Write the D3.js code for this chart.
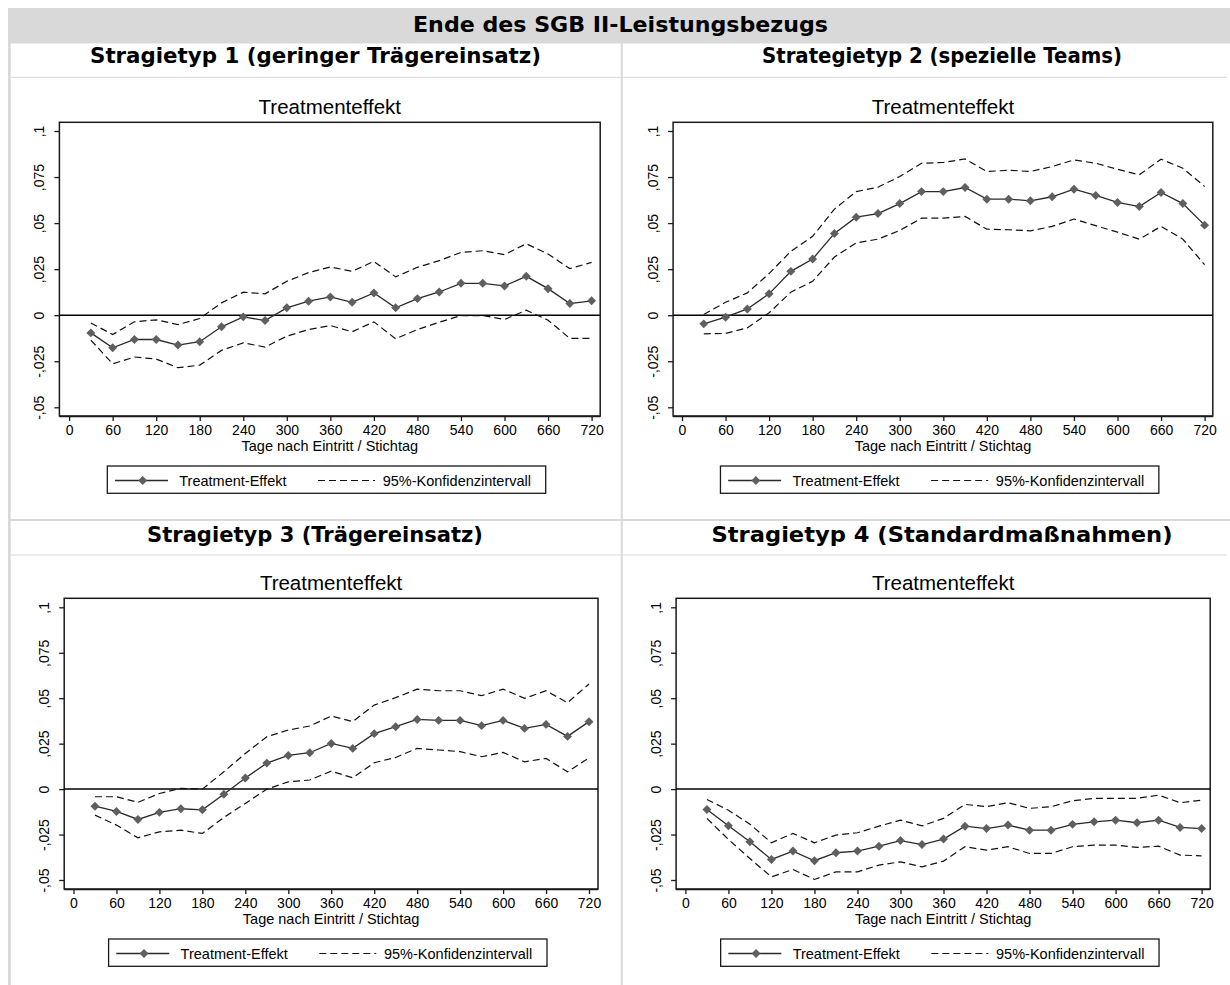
<!DOCTYPE html>
<html>
<head>
<meta charset="utf-8">
<script src="https://cdn.jsdelivr.net/npm/d3@7"></script>
<style>
  body { margin: 0; background: #fff; }
  svg { display: block; }
  .head { font-family: "DejaVu Sans", Verdana, sans-serif; font-weight: bold; fill: #000; }
  .st { font-family: "Liberation Sans", Arial, sans-serif; fill: #000; }
</style>
</head>
<body>
<svg id="chart" width="1230" height="985"></svg>
<script>

// category axis and ticks
var days = [30, 60, 90, 120, 150, 180, 210, 240, 270, 300, 330, 360,
            390, 420, 450, 480, 510, 540, 570, 600, 630, 660, 690, 720];
var xTicks = [0, 60, 120, 180, 240, 300, 360, 420, 480, 540, 600, 660, 720];
var yTicks = [0.1, 0.075, 0.05, 0.025, 0, -0.025, -0.05];
var yTickLabels = [",1", ",075", ",05", ",025", "0", "-,025", "-,05"];

var mainTitle = "Ende des SGB II-Leistungsbezugs";
var panelTitles = ["Stragietyp 1 (geringer Trägereinsatz)", "Strategietyp 2 (spezielle Teams)",
                   "Stragietyp 3 (Trägereinsatz)", "Stragietyp 4 (Standardmaßnahmen)"];
var plotTitle = "Treatmenteffekt";
var xTitle = "Tage nach Eintritt / Stichtag";
var legendLabels = ["Treatment-Effekt", "95%-Konfidenzintervall"];

// Stragietyp 1
var effect1 = [-0.0096, -0.0177, -0.0132, -0.0132, -0.0162, -0.0144, -0.0063, -0.0009, -0.0029, 0.0040, 0.0076, 0.0099,
               0.0070, 0.0121, 0.0040, 0.0090, 0.0126, 0.0173, 0.0173, 0.0159, 0.0211, 0.0144, 0.0063, 0.0078];
var upper1  = [-0.0042, -0.0105, -0.0036, -0.0025, -0.0051, -0.0018, 0.0067, 0.0125, 0.0116, 0.0184, 0.0231, 0.0262,
               0.0238, 0.0292, 0.0208, 0.0260, 0.0296, 0.0341, 0.0350, 0.0329, 0.0388, 0.0332, 0.0253, 0.0287];
var lower1  = [-0.0135, -0.0264, -0.0227, -0.0238, -0.0285, -0.0271, -0.0191, -0.0150, -0.0173, -0.0114, -0.0078, -0.0056,
               -0.0090, -0.0036, -0.0128, -0.0078, -0.0038, -0.0002, -0.0002, -0.0023, 0.0027, -0.0027, -0.0126, -0.0126];

// Strategietyp 2
var effect2 = [-0.0047, -0.0011, 0.0034, 0.0116, 0.0238, 0.0305, 0.0444, 0.0532, 0.0552, 0.0606, 0.0671, 0.0671,
               0.0693, 0.0630, 0.0630, 0.0621, 0.0643, 0.0684, 0.0650, 0.0612, 0.0590, 0.0666, 0.0606, 0.0489];
var upper2  = [0.0004, 0.0070, 0.0121, 0.0226, 0.0347, 0.0428, 0.0576, 0.0671, 0.0695, 0.0753, 0.0825, 0.0829,
               0.0848, 0.0780, 0.0787, 0.0780, 0.0807, 0.0843, 0.0825, 0.0792, 0.0762, 0.0847, 0.0798, 0.0699];
var lower2  = [-0.0101, -0.0099, -0.0069, 0.0013, 0.0125, 0.0184, 0.0316, 0.0392, 0.0413, 0.0460, 0.0527, 0.0527,
               0.0536, 0.0467, 0.0464, 0.0458, 0.0482, 0.0522, 0.0486, 0.0451, 0.0413, 0.0482, 0.0413, 0.0274];

// Stragietyp 3
var effect3 = [-0.0094, -0.0123, -0.0167, -0.0128, -0.0108, -0.0114, -0.0028, 0.0061, 0.0143, 0.0185, 0.0200, 0.0251,
               0.0224, 0.0305, 0.0343, 0.0383, 0.0378, 0.0378, 0.0349, 0.0378, 0.0334, 0.0356, 0.0290, 0.0371];
var upper3  = [-0.0042, -0.0042, -0.0073, -0.0024, 0.0004, 0.0000, 0.0095, 0.0196, 0.0288, 0.0325, 0.0347, 0.0402,
               0.0371, 0.0462, 0.0503, 0.0550, 0.0541, 0.0541, 0.0514, 0.0550, 0.0499, 0.0541, 0.0475, 0.0578];
var lower3  = [-0.0143, -0.0198, -0.0268, -0.0235, -0.0226, -0.0244, -0.0156, -0.0079, 0.0000, 0.0040, 0.0050, 0.0099,
               0.0062, 0.0145, 0.0174, 0.0224, 0.0215, 0.0206, 0.0178, 0.0202, 0.0150, 0.0169, 0.0095, 0.0172];

// Stragietyp 4
var effect4 = [-0.0112, -0.0202, -0.0290, -0.0387, -0.0341, -0.0394, -0.0350, -0.0341, -0.0314, -0.0283, -0.0305, -0.0275,
               -0.0204, -0.0217, -0.0198, -0.0226, -0.0226, -0.0194, -0.0180, -0.0171, -0.0185, -0.0171, -0.0211, -0.0217];
var upper4  = [-0.0057, -0.0116, -0.0193, -0.0295, -0.0244, -0.0295, -0.0253, -0.0240, -0.0204, -0.0171, -0.0202, -0.0161,
               -0.0084, -0.0097, -0.0075, -0.0106, -0.0097, -0.0064, -0.0051, -0.0051, -0.0051, -0.0033, -0.0075, -0.0061];
var lower4  = [-0.0161, -0.0277, -0.0382, -0.0483, -0.0442, -0.0497, -0.0455, -0.0455, -0.0418, -0.0400, -0.0428, -0.0396,
               -0.0317, -0.0336, -0.0317, -0.0354, -0.0354, -0.0317, -0.0308, -0.0308, -0.0321, -0.0314, -0.0363, -0.0367];

var svg = d3.select("#chart");
var grid = "#d9d9d9";

// table frame
svg.append("rect").attr("x", 8).attr("y", 8).attr("width", 1222).attr("height", 35.5).attr("fill", grid);
svg.append("rect").attr("x", 8).attr("y", 43).attr("width", 2.7).attr("height", 942).attr("fill", grid);
svg.append("rect").attr("x", 620.7).attr("y", 43).attr("width", 2).attr("height", 942).attr("fill", grid);
svg.append("rect").attr("x", 10).attr("y", 76.8).attr("width", 1217).attr("height", 1).attr("fill", grid);
svg.append("rect").attr("x", 10).attr("y", 519).attr("width", 1220).attr("height", 2).attr("fill", grid);
svg.append("rect").attr("x", 10).attr("y", 554.5).attr("width", 1217).attr("height", 1).attr("fill", grid);

// header texts: centre x, baseline, rendered width (Tahoma-like widths)
svg.append("text").attr("class", "head").attr("x", 620.5).attr("y", 31.7)
    .attr("text-anchor", "middle").style("font-size", "22px")
    .attr("textLength", 415).attr("lengthAdjust", "spacingAndGlyphs").text(mainTitle);

var headPos = [[315.5, 62.5, 451], [942, 62.5, 360], [315, 542, 336], [942, 542, 461]];
panelTitles.forEach(function(t, i) {
    svg.append("text").attr("class", "head")
        .attr("x", headPos[i][0]).attr("y", headPos[i][1])
        .attr("text-anchor", "middle").style("font-size", "21px")
        .attr("textLength", headPos[i][2]).attr("lengthAdjust", "spacingAndGlyphs").text(t);
});

var panels = [
    {eff: effect1, up: upper1, lo: lower1, L: 59.4, R: 600.2, T: 122.3, B: 416, x0: 69.1, x1: 591.6, yTop: 131, yBot: 407.3},
    {eff: effect2, up: upper2, lo: lower2, L: 673.1, R: 1212.8, T: 122.3, B: 416, x0: 682, x1: 1204.6, yTop: 131, yBot: 407.3},
    {eff: effect3, up: upper3, lo: lower3, L: 64.2, R: 598, T: 598.3, B: 889, x0: 73.5, x1: 589, yTop: 607.3, yBot: 880},
    {eff: effect4, up: upper4, lo: lower4, L: 676.1, R: 1210.2, T: 598.3, B: 889, x0: 685.4, x1: 1201.6, yTop: 607.3, yBot: 880}
];

var diamond = d3.symbol().type(d3.symbolSquare).size(40);

panels.forEach(function(p) {
    var x = d3.scaleLinear().domain([0, 720]).range([p.x0, p.x1]);
    var y = d3.scaleLinear().domain([-0.05, 0.1]).range([p.yBot, p.yTop]);
    var cx = (p.L + p.R) / 2;
    var g = svg.append("g");

    g.append("text").attr("class", "st").attr("x", cx).attr("y", p.T - 8)
        .attr("text-anchor", "middle").style("font-size", "20.5px").text(plotTitle);

    // axes
    var xAxis = d3.axisBottom(x).tickValues(xTicks).tickSize(5).tickPadding(4);
    var gx = g.append("g").attr("transform", "translate(0," + p.B + ")").call(xAxis);
    gx.select(".domain").remove();
    gx.selectAll("line").attr("stroke", "#1a1a1a").attr("stroke-width", 1.3);
    gx.selectAll("text").attr("class", "st").attr("fill", "#000")
        .style("font-size", "14px").style("font-family", "Liberation Sans, Arial, sans-serif");

    var yAxis = d3.axisLeft(y).tickValues(yTicks).tickSize(5)
        .tickFormat(function(d, i) { return yTickLabels[i]; });
    var gy = g.append("g").attr("transform", "translate(" + p.L + ",0)").call(yAxis);
    gy.select(".domain").remove();
    gy.selectAll("line").attr("stroke", "#1a1a1a").attr("stroke-width", 1.3);
    gy.selectAll("text")
        .attr("x", null).attr("dy", null)
        .attr("transform", "translate(-15,0) rotate(-90)")
        .attr("text-anchor", "middle").attr("fill", "#000")
        .style("font-size", "14px").style("font-family", "Liberation Sans, Arial, sans-serif");

    g.append("text").attr("class", "st").attr("x", cx).attr("y", p.B + 34.5)
        .attr("text-anchor", "middle").style("font-size", "14.5px").text(xTitle);

    // frame
    g.append("rect").attr("x", p.L).attr("y", p.T).attr("width", p.R - p.L).attr("height", p.B - p.T)
        .attr("fill", "none").attr("stroke", "#1a1a1a").attr("stroke-width", 1.5);
    g.append("line").attr("x1", p.L).attr("x2", p.R).attr("y1", p.B + 0.6).attr("y2", p.B + 0.6)
        .attr("stroke", "#1a1a1a").attr("stroke-width", 1.5);

    // zero line
    g.append("line").attr("x1", p.L).attr("x2", p.R).attr("y1", y(0)).attr("y2", y(0))
        .attr("stroke", "#000").attr("stroke-width", 1.5);

    var line = function(vals) {
        return d3.line().x(function(d, i) { return x(days[i]); }).y(function(d) { return y(d); })(vals);
    };

    [p.up, p.lo].forEach(function(ci) {
        g.append("path").attr("d", line(ci)).attr("fill", "none")
            .attr("stroke", "#111").attr("stroke-width", 1.2).attr("stroke-dasharray", "7,4");
    });
    g.append("path").attr("d", line(p.eff)).attr("fill", "none")
        .attr("stroke", "#2a2a2a").attr("stroke-width", 1.3);
    g.selectAll(".mk").data(p.eff).enter().append("path")
        .attr("d", diamond)
        .attr("transform", function(d, i) { return "translate(" + x(days[i]) + "," + y(d) + ") rotate(45)"; })
        .attr("fill", "#5f5f5f");

    // legend
    var lx = cx - 222.5, ly = p.B + 50;
    var lg = g.append("g").attr("transform", "translate(" + lx + "," + ly + ")");
    lg.append("rect").attr("width", 438.4).attr("height", 27.3)
        .attr("fill", "#fff").attr("stroke", "#1a1a1a").attr("stroke-width", 1.3);
    lg.append("line").attr("x1", 7.7).attr("x2", 60.7).attr("y1", 14.5).attr("y2", 14.5)
        .attr("stroke", "#2a2a2a").attr("stroke-width", 1.3);
    lg.append("path").attr("d", diamond).attr("transform", "translate(35.4,14.5) rotate(45)").attr("fill", "#5f5f5f");
    lg.append("text").attr("class", "st").attr("x", 72).attr("y", 19.5).style("font-size", "14.5px").text(legendLabels[0]);
    lg.append("line").attr("x1", 210.7).attr("x2", 267.7).attr("y1", 14.5).attr("y2", 14.5)
        .attr("stroke", "#111").attr("stroke-width", 1.2).attr("stroke-dasharray", "7,4");
    lg.append("text").attr("class", "st").attr("x", 275.4).attr("y", 19.5).style("font-size", "14.5px").text(legendLabels[1]);
});

</script>
</body>
</html>
